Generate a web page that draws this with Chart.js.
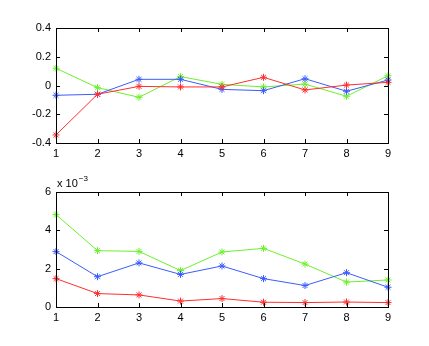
<!DOCTYPE html>
<html>
<head>
<meta charset="utf-8">
<script src="https://cdn.jsdelivr.net/npm/chart.js@4/dist/chart.umd.min.js"></script>
<style>
  html, body { margin: 0; padding: 0; background: #fff; }
  #wrap { position: relative; width: 429px; height: 346px; }
  canvas { position: absolute; left: 0; }
</style>
</head>
<body>
<div id="wrap">
  <canvas id="top-chart" style="top:0px"></canvas>
  <canvas id="bottom-chart" style="top:164px"></canvas>
</div>
<script>
/* Data */
let xLabels = [1, 2, 3, 4, 5, 6, 7, 8, 9]

// upper plot
let topBlue  = [-0.068, -0.061, 0.043, 0.043, -0.027, -0.036, 0.047, -0.040, 0.038]
let topGreen = [0.120, -0.015, -0.082, 0.062, 0.008, -0.010, 0.010, -0.075, 0.068]
let topRed   = [-0.344, -0.061, -0.006, -0.010, -0.010, 0.057, -0.031, 0.003, 0.022]
let topTicks = [-0.4, -0.2, 0, 0.2, 0.4]

// lower plot (real values, axis shows them x 10^-3)
let bottomBlue  = [0.00289, 0.00158, 0.00230, 0.00170, 0.00214, 0.00148, 0.00112, 0.00179, 0.00103]
let bottomGreen = [0.00482, 0.00294, 0.00290, 0.00190, 0.00287, 0.00306, 0.00224, 0.00130, 0.00141]
let bottomRed   = [0.00148, 0.00070, 0.00063, 0.00031, 0.00044, 0.00025, 0.00023, 0.00026, 0.00023]
let bottomTicks = [0, 0.002, 0.004, 0.006]

let colors = { blue: '#3a5cff', green: '#6cf02c', red: '#ff2e2e' }
let font = { family: 'Liberation Sans, Arial, sans-serif', size: 11 }

// Draw the MATLAB style box with inward ticks on all four sides
let boxPlugin = {
    id: 'box',
    afterDraw(chart, args, opts) {
        let ctx = chart.ctx
        let a = chart.chartArea
        let xs = chart.scales.x
        let ys = chart.scales.y
        let len = 4
        ctx.save()
        ctx.strokeStyle = '#000'
        ctx.lineWidth = 1
        ctx.beginPath()
        xs.ticks.forEach(function(t) {
            let px = Math.round(xs.getPixelForValue(t.value)) + 0.5
            ctx.moveTo(px, a.bottom); ctx.lineTo(px, a.bottom - len)
            ctx.moveTo(px, a.top); ctx.lineTo(px, a.top + len)
        })
        ys.ticks.forEach(function(t) {
            let py = Math.round(ys.getPixelForValue(t.value)) + 0.5
            ctx.moveTo(a.left, py); ctx.lineTo(a.left + len, py)
            ctx.moveTo(a.right, py); ctx.lineTo(a.right - len, py)
        })
        ctx.stroke()
        ctx.strokeRect(Math.round(a.left) + 0.5, Math.round(a.top) + 0.5,
            Math.round(a.right - a.left), Math.round(a.bottom - a.top))

        // exponent label for the lower plot
        if (opts.exponent) {
            ctx.fillStyle = '#000'
            ctx.textBaseline = 'alphabetic'
            ctx.textAlign = 'left'
            ctx.font = '11px ' + font.family
            let tx = a.left + 1
            let ty = a.top - 5
            ctx.fillText('x 10', tx, ty)
            let w = ctx.measureText('x 10').width
            ctx.font = '8px ' + font.family
            ctx.fillText('\u22123', tx + w + 1, ty - 6)
        }
        ctx.restore()
    }
}

function makeDataset(values, color) {
    return {
        data: values,
        borderColor: color,
        backgroundColor: color,
        borderWidth: 1,
        pointStyle: 'star',
        pointRadius: 3.5,
        pointBorderWidth: 1,
        pointBorderColor: color,
        tension: 0
    }
}

function makeChart(canvas, blue, green, red, yMin, yMax, yTicks, tickFormat, exponent) {
    canvas.width = 429
    canvas.height = 174
    return new Chart(canvas.getContext('2d'), {
        type: 'line',
        data: {
            labels: xLabels,
            datasets: [
                makeDataset(red, colors.red),
                makeDataset(blue, colors.blue),
                makeDataset(green, colors.green)
            ]
        },
        options: {
            responsive: false,
            animation: false,
            events: [],
            layout: { padding: { left: 0, right: 41, top: 28 - (exponent ? 0 : 0), bottom: 14 } },
            plugins: {
                legend: { display: false },
                tooltip: { enabled: false },
                box: { exponent: exponent }
            },
            scales: {
                x: {
                    type: 'category',
                    offset: false,
                    grid: { display: false, drawTicks: false },
                    border: { display: false },
                    ticks: { color: '#000', font: font, padding: 4, maxRotation: 0, autoSkip: false },
                    afterFit(scale) { scale.height = 17 }
                },
                y: {
                    min: yMin,
                    max: yMax,
                    grid: { display: false, drawTicks: false },
                    border: { display: false },
                    afterBuildTicks(scale) {
                        scale.ticks = yTicks.map(function(v) { return { value: v } })
                    },
                    ticks: { color: '#000', font: font, padding: 5, callback: tickFormat },
                    afterFit(scale) { scale.width = 56 }
                }
            }
        },
        plugins: [boxPlugin]
    })
}

makeChart(document.querySelector('#top-chart'), topBlue, topGreen, topRed, -0.4, 0.4, topTicks,
    function(v) { return String(Math.round(v * 10) / 10) }, false)

makeChart(document.querySelector('#bottom-chart'), bottomBlue, bottomGreen, bottomRed, 0, 0.006, bottomTicks,
    function(v) { return String(Math.round(v * 1000)) }, true)
</script>
</body>
</html>
